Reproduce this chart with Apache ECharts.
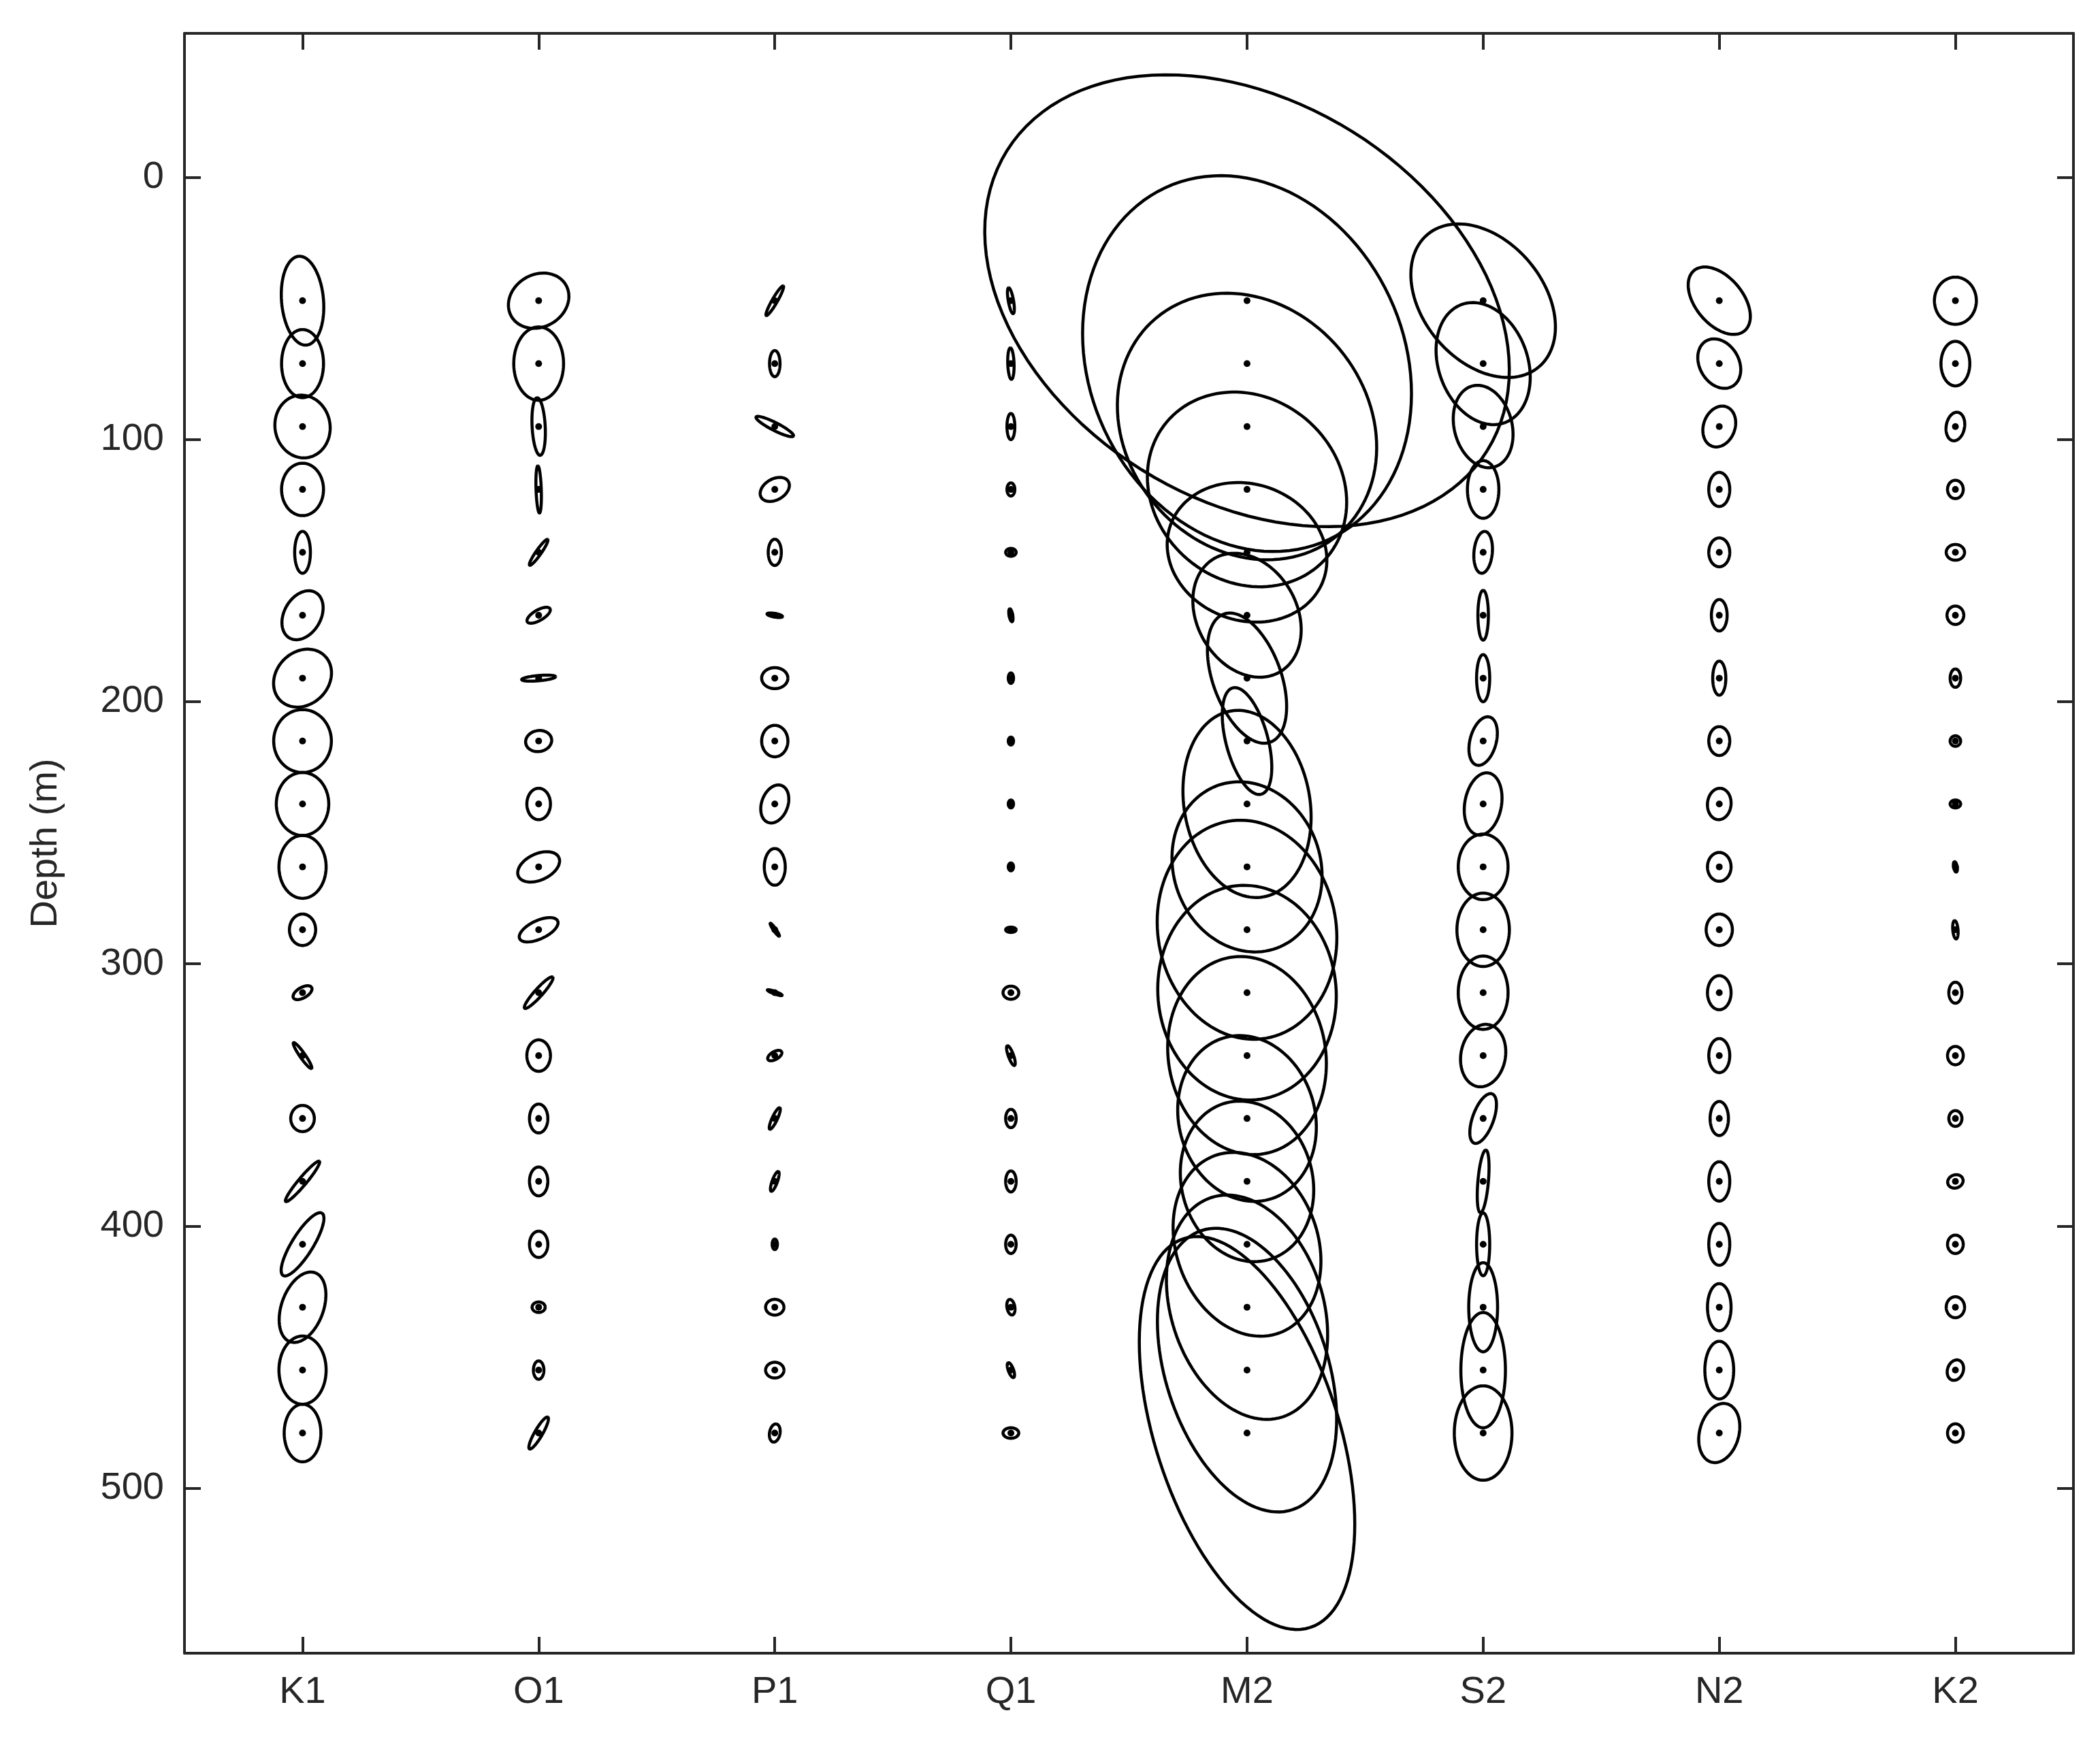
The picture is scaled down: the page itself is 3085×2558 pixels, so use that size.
<!DOCTYPE html>
<html><head><meta charset="utf-8">
<script src="https://cdn.jsdelivr.net/npm/echarts@6/dist/echarts.min.js"></script>
<style>html,body{margin:0;padding:0;background:#fff}#c{width:3085px;height:2558px}</style>
</head><body><div id="c"></div>
<script>
const categories = ['K1','O1','P1','Q1','M2','S2','N2','K2'];
const depths = [47,71,95,119,143,167,191,215,239,263,287,311,335,359,383,407,431,455,479];
const yTicks = [0,100,200,300,400,500];
// each entry: [semi-major (m), semi-minor (m), inclination (deg)]
const K1 = [[17,8,95],[13,8,90],[12,10.5,100],[10,8,90],[8,3,90],[10,7,60],[12,10,45],[12,11,90],[12,10,90],[12,9,90],[6,5,90],[4,2,30],[6,1,-55],[5,4.5,90],[10,1.5,50],[14,4,58],[14,8,70],[13,9,90],[11,7,90]];
const O1 = [[12,10,30],[14,9.5,90],[11,2.5,93],[9,1,92],[6,1,55],[5,2,30],[6.5,1,5],[5,4,10],[6,4.5,90],[8.5,5,25],[8,3.5,25],[8,1.5,48],[6,4.5,90],[5.5,3.5,90],[5.5,3.5,90],[5,3.5,90],[2.5,2,0],[3.5,2,90],[7,1.5,60]];
const P1 = [[6.5,1,60],[5,2,90],[8,1.5,-27],[6,4,30],[5,2.5,90],[3,0.7,-10],[5,4,0],[6,5,90],[7.5,5,70],[7,4,90],[3,0.5,-55],[3,0.5,-20],[3,1.5,30],[4.5,1,65],[4,1,70],[2,1,90],[3.5,3,0],[3.5,3,0],[3.5,2,80]];
const Q1 = [[5,1,100],[6,1.2,92],[5,1.5,90],[2.5,1.5,90],[2,1.5,0],[2.5,0.7,100],[2,1,90],[1.5,1,90],[1.5,1,90],[1.5,1,90],[2,1,0],[3,2.5,0],[4,1,110],[3.5,2,90],[4,2,90],[3.5,2,90],[3,1.5,100],[3,1,110],[3,2,0]];
const M2 = [[108,76,-32],[74,60,-65],[54,46,-50],[40,35,-40],[31,26,-20],[25,19,-60],[26,13,-70],[21,8,-75],[36,24,-80],[33,28,-70],[42,34,-80],[41,34,-85],[38,30,-80],[32,26,-75],[31,25,-75],[36,27,-70],[44,29,-72],[56,31,-72],[78,35,-72]];
const S2 = [[33,23,-50],[24,17,-70],[16,11,-75],[11,6,90],[8,3.5,85],[9.5,2,90],[9,2.5,90],[9.5,5,75],[12,7,80],[12.5,9.5,90],[14,10,90],[14,9.5,90],[12,8.5,80],[10,4,70],[12,2,85],[12,2.5,90],[17,5.5,90],[22,8.5,90],[18,11,90]];
const N2 = [[15,9,-50],[10,7.5,-60],[8,6,70],[6.5,4,90],[5.5,4,90],[6,3,90],[6.5,2.5,90],[5.5,4,90],[6,4.5,85],[5.5,4.5,90],[6,5,90],[6.5,4.5,90],[6.5,4,90],[6.5,3.5,90],[7.5,4,90],[8,4,90],[9,4.5,90],[11,5.5,90],[11.5,7.5,75]];
const K2 = [[9,8,90],[8.5,5.5,90],[5.5,3.5,80],[3.5,3,90],[3.5,3,0],[3.5,3.2,90],[3.5,2,90],[2,2,0],[2,1.5,0],[2,0.7,100],[3.5,1,95],[4,2.5,90],[3.5,3,90],[3,2.5,90],[3,2.5,20],[3.5,3,90],[4,3.5,90],[4,3,70],[3.5,3,90]];

const ellipses = [K1,O1,P1,Q1,M2,S2,N2,K2];
const data = [];
ellipses.forEach((arr, ci) => arr.forEach((e, di) => data.push([ci, depths[di], e[0], e[1], e[2]])));

const txt = '#262626', lw = 4;
function renderItem(params, api) {
  const c = api.coord([api.value(0), api.value(1)]);
  const s = Math.abs(api.size([0, 1])[1]);
  const a = api.value(2) * s, b = api.value(3) * s, th = api.value(4) * Math.PI / 180;
  const pts = [];
  for (let i = 0; i <= 120; i++) {
    const t = i / 120 * 2 * Math.PI;
    const x = a * Math.cos(t), y = b * Math.sin(t);
    pts.push([c[0] + x * Math.cos(th) - y * Math.sin(th), c[1] - (x * Math.sin(th) + y * Math.cos(th))]);
  }
  return { type: 'group', children: [
    { type: 'polyline', shape: { points: pts }, style: { stroke: '#000', lineWidth: 4.5, fill: null } },
    { type: 'circle', shape: { cx: c[0], cy: c[1], r: 5 }, style: { fill: '#000' } }
  ]};
}
const axLine = { show: true, onZero: false, lineStyle: { color: txt, width: lw } };
const chart = echarts.init(document.getElementById('c'));
chart.setOption({
  animation: false,
  grid: { left: 271, right: 39, top: 49, bottom: 129 },
  xAxis: [
    { type: 'category', data: categories, boundaryGap: true, position: 'bottom', axisLine: axLine,
      axisTick: { show: true, inside: true, length: 24, alignWithLabel: true, lineStyle: { width: lw, color: txt } },
      axisLabel: { color: txt, fontSize: 56, fontFamily: 'Liberation Sans', margin: 30 } },
    { type: 'category', data: categories, boundaryGap: true, position: 'top', axisLine: axLine,
      axisTick: { show: true, inside: true, length: 24, alignWithLabel: true, lineStyle: { width: lw, color: txt } },
      axisLabel: { show: false } }
  ],
  yAxis: [
    { type: 'value', inverse: true, min: -55, max: 563, position: 'left', axisLine: axLine, splitLine: { show: false },
      name: 'Depth (m)', nameLocation: 'middle', nameGap: 175, nameRotate: 90,
      nameTextStyle: { color: txt, fontSize: 56, fontFamily: 'Liberation Sans' },
      axisTick: { show: true, inside: true, length: 24, customValues: yTicks, lineStyle: { width: lw, color: txt } },
      axisLabel: { color: txt, fontSize: 56, fontFamily: 'Liberation Sans', margin: 30, customValues: yTicks } },
    { type: 'value', inverse: true, min: -55, max: 563, position: 'right', axisLine: axLine, splitLine: { show: false },
      axisTick: { show: true, inside: true, length: 24, customValues: yTicks, lineStyle: { width: lw, color: txt } },
      axisLabel: { show: false } }
  ],
  series: [{ type: 'custom', renderItem, data, encode: { x: 0, y: 1 }, clip: false }]
});
</script></body></html>
